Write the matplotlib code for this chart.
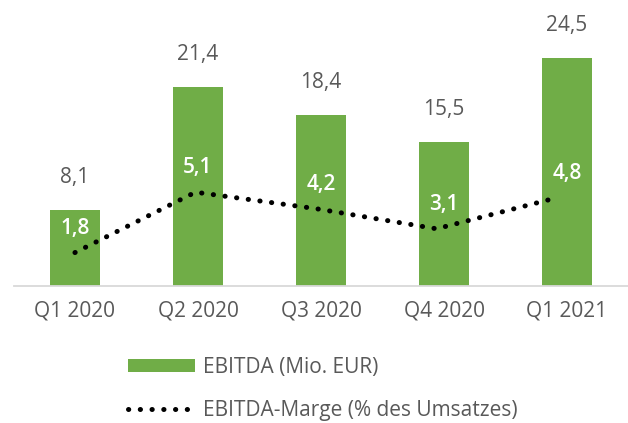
import matplotlib
matplotlib.use("Agg")
import matplotlib.pyplot as plt
from matplotlib.patches import Patch
from matplotlib.lines import Line2D

categories = ["Q1 2020", "Q2 2020", "Q3 2020", "Q4 2020", "Q1 2021"]
ebitda = [8.1, 21.4, 18.4, 15.5, 24.5]
marge = [1.8, 5.1, 4.2, 3.1, 4.8]
ebitda_labels = ["8,1", "21,4", "18,4", "15,5", "24,5"]
marge_labels = ["1,8", "5,1", "4,2", "3,1", "4,8"]

GREEN = "#70AD47"
GRAY = "#595959"
FONT = "Open Sans"
FS = 15
DOTS = (0, (0.05, 2.3))

plt.rcParams["font.family"] = [FONT, "DejaVu Sans"]

W, H = 628, 423
fig = plt.figure(figsize=(W / 100, H / 100), dpi=100)
left_px, right_px = 13.5, 628.5
bottom_px, top_px = 285.5, 7.4
ax = fig.add_axes([left_px / W, 1 - bottom_px / H, (right_px - left_px) / W, (bottom_px - top_px) / H])

x = list(range(len(categories)))
ax.bar(x, ebitda, width=0.4, color=GREEN, zorder=2)
ax.set_xlim(-0.5, 4.5)
ax.set_ylim(0, 30)
ax.set_yticks([])
ax.set_xticks(x)
ax.set_xticklabels(categories, fontsize=FS, color=GRAY)
ax.tick_params(axis="x", length=0, pad=11)
for s in ["top", "right", "left"]:
    ax.spines[s].set_visible(False)
ax.spines["bottom"].set_color("#D9D9D9")
ax.spines["bottom"].set_linewidth(1.3)

for xi, v, lab in zip(x, ebitda, ebitda_labels):
    ax.annotate(lab, xy=(xi, v), xytext=(0, 23.5), textcoords="offset points",
                ha="center", va="center", fontsize=FS, color=GRAY)

ax2 = fig.add_axes(ax.get_position(), frameon=False)
ax2.set_xlim(-0.51, 4.593)
ax2.set_ylim(0, 15.2)
ax2.set_xticks([])
ax2.set_yticks([])
line, = ax2.plot(x, marge, color="black", lw=3.6, linestyle=DOTS,
                 dash_capstyle="round", zorder=3)

for xi, v, lab in zip(x, marge, marge_labels):
    ax2.annotate(lab, xy=(xi, v), xycoords=(ax.transData, ax2.transData),
                 xytext=(0, 17.5), textcoords="offset points",
                 ha="center", va="center", fontsize=FS, color="white", fontweight="semibold")

handles = [Patch(facecolor=GREEN, edgecolor="none"),
           Line2D([0], [0], color="black", lw=3.6, linestyle=DOTS, dash_capstyle="round")]
labels = ["EBITDA (Mio. EUR)", "EBITDA-Marge (% des Umsatzes)"]
leg = fig.legend(handles, labels, loc="center left", bbox_to_anchor=(128 / W, 1 - 389 / H),
                 frameon=False, fontsize=FS, handlelength=3.2, handleheight=0.62,
                 handletextpad=0.4, labelspacing=1.05, borderpad=0, borderaxespad=0)
for t in leg.get_texts():
    t.set_color(GRAY)

fig.savefig("out.png", dpi=100)
